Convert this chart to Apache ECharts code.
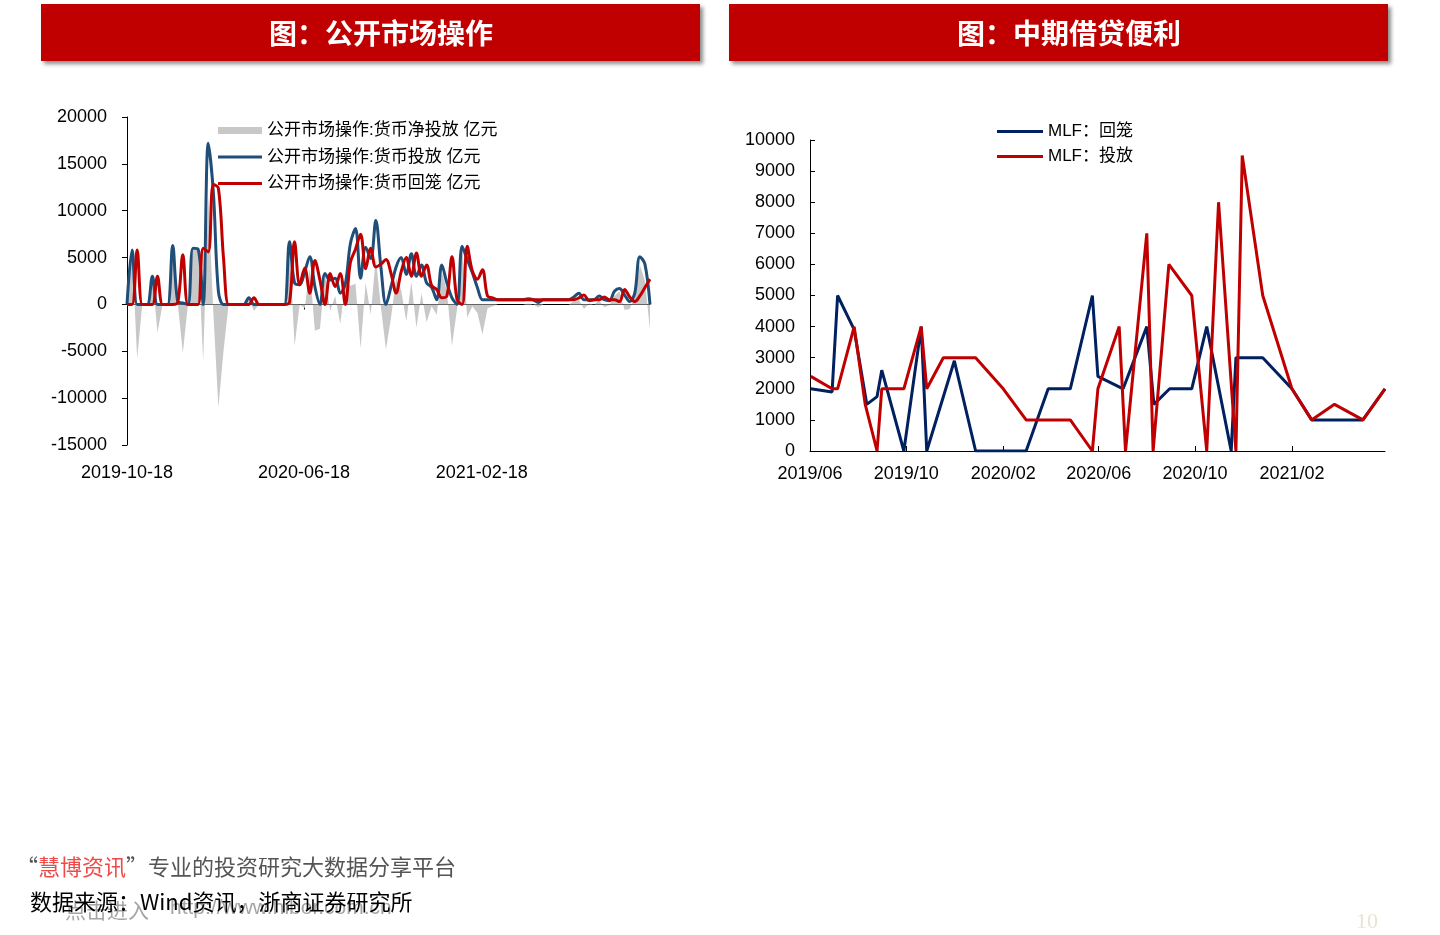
<!DOCTYPE html>
<html><head><meta charset="utf-8">
<script src="https://cdn.jsdelivr.net/npm/echarts@6/dist/echarts.min.js"></script>
<style>html,body{margin:0;padding:0;background:#fff;}#c{width:1440px;height:935px;}</style>
</head><body><div id="c"></div>
<script>
// ---------- Left chart: 公开市场操作 (weekly, from 2019-10-18) ----------
const omoStart = '2019-10-18';
const omoEnd = '2021-10-08';
const omoTickLabels = ['2019-10-18', '2020-06-18', '2021-02-18'];
const omoSupply = [0,5800,0,0,0,3000,0,0,0,6300,
  300,150,0,6000,5900,0,17200,12000,1400,0,
  0,0,0,0,700,0,0,0,0,0,
  0,0,6700,2300,2100,3500,5100,1900,0,3300,
  2600,2800,1200,2200,6500,8100,2800,6100,4900,8950,
  4000,0,1900,4000,5000,3200,5400,3000,4200,2300,
  1800,500,4200,2300,700,0,6200,4800,3400,1800,
  500,500,500,500,500,500,500,500,500,600,
  500,200,500,500,500,500,500,500,800,1200,
  500,500,500,900,500,400,1400,1700,1000,300,
  1200,5100,4300,0];
const omoWithdraw = [0,0,5800,0,0,0,3000,0,0,0,
  200,5300,0,0,0,6000,5600,12800,12400,5000,
  0,0,0,0,0,700,0,0,0,0,
  0,0,200,6700,2100,3900,1200,4700,2600,0,
  3300,1900,3300,0,4500,5900,7500,3800,6000,4000,
  4300,4800,3300,1200,3500,5000,3000,5500,3000,4200,
  2000,1600,700,900,5100,500,0,6200,3600,2700,
  3700,900,700,500,500,500,500,500,500,500,
  500,500,500,500,500,500,500,500,500,700,
  1000,400,500,500,800,500,500,300,1600,800,
  300,900,1800,2700];
const omoNet = [0,5800,-5800,0,0,3000,-3000,0,0,6300,
  100,-5150,0,6000,5900,-6000,11600,-800,-11000,-5000,
  0,0,0,0,700,-700,0,0,0,0,
  0,0,6500,-4400,0,-400,3900,-2800,-2600,3300,
  -700,900,-2100,2200,2000,2200,-4700,2300,-1100,4950,
  -300,-4800,-1400,2800,1500,-1800,2400,-2500,1200,-1900,
  -200,-1100,3500,1400,-4400,-500,6200,-1400,-200,-900,
  -3200,-400,-200,0,0,0,0,0,0,100,
  0,-300,0,0,0,0,0,0,300,500,
  -500,100,0,400,-300,-100,900,1400,-600,-500,
  900,4200,2500,-2700];
const omoNames = ['公开市场操作:货币净投放 亿元', '公开市场操作:货币投放 亿元', '公开市场操作:货币回笼 亿元'];

// ---------- Right chart: 中期借贷便利 ----------
const mlfTickLabels = ['2019/06', '2019/10', '2020/02', '2020/06', '2020/10', '2021/02'];
const mlfStart = '2019-06-01';
const mlfEnd = '2021-05-30';
const mlfBackDates = ['2019-06-02','2019-06-29','2019-07-06','2019-07-27','2019-08-12','2019-08-25','2019-08-31','2019-09-28','2019-10-20','2019-10-27','2019-12-01','2019-12-28','2020-03-01','2020-03-29','2020-04-26','2020-05-24','2020-05-31','2020-07-02','2020-08-01','2020-08-10','2020-08-30','2020-09-27','2020-10-16','2020-11-16','2020-11-22','2020-12-26','2021-02-01','2021-02-26','2021-05-02','2021-05-30'];
const mlfBackValues = [2000,1900,5000,3900,1500,1750,2600,0,4000,0,2900,0,0,2000,2000,5000,2400,2000,4000,1500,2000,2000,4000,0,3000,3000,2000,1000,1000,2000];
const mlfPutDates = ['2019-06-02','2019-06-29','2019-07-06','2019-07-27','2019-08-10','2019-08-25','2019-08-31','2019-09-28','2019-10-20','2019-10-27','2019-11-17','2019-12-28','2020-02-01','2020-03-01','2020-04-26','2020-05-24','2020-05-31','2020-06-27','2020-07-05','2020-08-01','2020-08-09','2020-08-29','2020-09-27','2020-10-16','2020-10-31','2020-11-22','2020-11-30','2020-12-26','2021-02-01','2021-02-26','2021-03-27','2021-05-02','2021-05-30'];
const mlfPutValues = [2400,2000,2000,4000,1500,0,2000,2000,4000,2000,3000,3000,2000,1000,1000,0,2000,4000,0,7000,0,6000,5000,0,8000,0,9500,5000,2000,1000,1500,1000,2000];
const mlfNames = ['MLF：回笼', 'MLF：投放'];

// ---------- helpers ----------
function ts(s) {
  const p = s.split(/[-\/]/).map(Number);
  return new Date(p[0], p[1] - 1, p[2] || 1).getTime();
}
function pad(n) { return (n < 10 ? '0' : '') + n; }
const st = omoStart.split('-').map(Number);
const omoDates = omoSupply.map((_, i) => new Date(st[0], st[1] - 1, st[2] + 7 * i).getTime());
const pairs = (xs, ys) => ys.map((v, i) => [xs[i], v]);

const LAT = "'Liberation Sans', Arial, 'Noto Sans CJK SC', sans-serif";
const CJK = "'Noto Sans CJK SC', 'Liberation Sans', sans-serif";
const legendText = {fontSize: 17, color: '#000', fontFamily: LAT};

const chart = echarts.init(document.getElementById('c'), null, {renderer: 'canvas'});
const option = {
  backgroundColor: '#fff',
  animation: false,
  textStyle: {fontFamily: LAT},
  grid: [
    {left: 127, top: 117, width: 523, height: 328},
    {left: 810, top: 140, width: 575, height: 311}
  ],
  legend: [
    {
      orient: 'vertical', left: 218, top: 122, padding: 0,
      itemWidth: 44, itemHeight: 7, textStyle: legendText,
      data: [{name: omoNames[0], icon: 'rect'}]
    },
    {
      orient: 'vertical', left: 218, top: 148.5, padding: 0, itemGap: 9.5,
      itemWidth: 44, itemHeight: 3, textStyle: legendText,
      data: [{name: omoNames[1], icon: 'rect'}, {name: omoNames[2], icon: 'rect'}]
    },
    {
      orient: 'vertical', left: 997, top: 123, padding: 0, itemGap: 8,
      itemWidth: 46, itemHeight: 3, textStyle: legendText,
      data: [{name: mlfNames[0], icon: 'rect'}, {name: mlfNames[1], icon: 'rect'}]
    }
  ],
  xAxis: [
    {
      gridIndex: 0, type: 'value', min: ts(omoStart), max: ts(omoEnd), position: 'bottom',
      axisLine: {show: false, onZero: false}, axisTick: {show: false}, splitLine: {show: false},
      axisLabel: {
        customValues: omoTickLabels.map(ts), fontSize: 18, color: '#000', margin: 19, fontFamily: LAT,
        formatter: v => { const d = new Date(v); return d.getFullYear() + '-' + pad(d.getMonth() + 1) + '-' + pad(d.getDate()); }
      }
    },
    {
      gridIndex: 0, type: 'value', min: ts(omoStart), max: ts(omoEnd), position: 'bottom',
      axisLine: {show: true, onZero: true, lineStyle: {color: '#000', width: 1}},
      axisTick: {show: true, customValues: omoTickLabels.map(ts), length: 5, lineStyle: {color: '#000'}},
      axisLabel: {show: false}, splitLine: {show: false}
    },
    {
      gridIndex: 1, type: 'value', min: ts(mlfStart), max: ts(mlfEnd), position: 'bottom',
      axisLine: {show: true, onZero: false, lineStyle: {color: '#000', width: 1}},
      axisTick: {show: true, inside: true, customValues: mlfTickLabels.map(ts), length: 5, lineStyle: {color: '#000'}},
      splitLine: {show: false},
      axisLabel: {
        customValues: mlfTickLabels.map(ts), fontSize: 18, color: '#000', margin: 14, fontFamily: LAT,
        formatter: v => { const d = new Date(v); return d.getFullYear() + '/' + pad(d.getMonth() + 1); }
      }
    }
  ],
  yAxis: [
    {
      gridIndex: 0, type: 'value', min: -15000, max: 20000, interval: 5000,
      axisLine: {show: true, onZero: false, lineStyle: {color: '#000', width: 1}},
      axisTick: {show: true, length: 5, lineStyle: {color: '#000'}},
      splitLine: {show: false},
      axisLabel: {fontSize: 18, color: '#000', margin: 20, fontFamily: LAT, formatter: v => String(v)}
    },
    {
      gridIndex: 1, type: 'value', min: 0, max: 10000, interval: 1000,
      axisLine: {show: true, onZero: false, lineStyle: {color: '#000', width: 1}},
      axisTick: {show: true, inside: true, length: 5, lineStyle: {color: '#000'}},
      splitLine: {show: false},
      axisLabel: {fontSize: 18, color: '#000', margin: 15, fontFamily: LAT, formatter: v => String(v)}
    }
  ],
  series: [
    {
      name: omoNames[0], type: 'line', xAxisIndex: 0, yAxisIndex: 0, data: pairs(omoDates, omoNet),
      symbol: 'none', color: '#C8C8C8', lineStyle: {width: 0}, areaStyle: {color: '#C8C8C8', opacity: 1}, z: 1
    },
    {
      name: omoNames[1], type: 'line', xAxisIndex: 0, yAxisIndex: 0, data: pairs(omoDates, omoSupply),
      symbol: 'none', smooth: 0.35, color: '#1F4E79', lineStyle: {width: 3, color: '#1F4E79'}, z: 2
    },
    {
      name: omoNames[2], type: 'line', xAxisIndex: 0, yAxisIndex: 0, data: pairs(omoDates, omoWithdraw),
      symbol: 'none', smooth: 0.35, color: '#C00000', lineStyle: {width: 3, color: '#C00000'}, z: 3
    },
    {
      name: mlfNames[0], type: 'line', xAxisIndex: 2, yAxisIndex: 1, data: pairs(mlfBackDates.map(ts), mlfBackValues),
      symbol: 'none', color: '#002060', lineStyle: {width: 3, color: '#002060'}, z: 2
    },
    {
      name: mlfNames[1], type: 'line', xAxisIndex: 2, yAxisIndex: 1, data: pairs(mlfPutDates.map(ts), mlfPutValues),
      symbol: 'none', color: '#C00000', lineStyle: {width: 3, color: '#C00000'}, z: 3
    }
  ],
  graphic: [
    {type: 'rect', shape: {x: 41, y: 4, width: 659, height: 57},
     style: {fill: '#C00000', shadowBlur: 4, shadowOffsetX: 3, shadowOffsetY: 3, shadowColor: 'rgba(0,0,0,0.45)'}},
    {type: 'rect', shape: {x: 729, y: 4, width: 659, height: 57},
     style: {fill: '#C00000', shadowBlur: 4, shadowOffsetX: 3, shadowOffsetY: 3, shadowColor: 'rgba(0,0,0,0.45)'}},
    {type: 'text', x: 381, y: 33,
     style: {text: '图：公开市场操作', fill: '#fff', fontSize: 28, fontWeight: 'bold', fontFamily: CJK, align: 'center', verticalAlign: 'middle'}},
    {type: 'text', x: 1069, y: 33,
     style: {text: '图：中期借贷便利', fill: '#fff', fontSize: 28, fontWeight: 'bold', fontFamily: CJK, align: 'center', verticalAlign: 'middle'}},
    {type: 'text', x: 65, y: 910,
     style: {text: '点击进入', fill: 'rgba(90,90,90,0.55)', fontSize: 21, fontFamily: CJK, align: 'left', verticalAlign: 'middle'}},
    {type: 'text', x: 170, y: 908,
     style: {text: 'http://www.hibor.com.cn', fill: 'rgba(90,90,90,0.55)', fontSize: 21, fontFamily: LAT, align: 'left', verticalAlign: 'middle'}},
    {type: 'text', x: 16, y: 867,
     style: {text: '{q|“}{r|慧博资讯}{q|”专业的投资研究大数据分享平台}', fontSize: 22, fontFamily: CJK, align: 'left', verticalAlign: 'middle',
       rich: {q: {fill: '#555', fontSize: 22, fontFamily: CJK}, r: {fill: '#EE4A4A', fontSize: 22, fontFamily: CJK}}}},
    {type: 'text', x: 30, y: 902,
     style: {text: '数据来源：Wind资讯，浙商证券研究所', fill: '#000', fontSize: 22, fontFamily: CJK, align: 'left', verticalAlign: 'middle'}},
    {type: 'text', x: 1367, y: 922,
     style: {text: '10', fill: '#EAE3D2', fontSize: 22, fontFamily: "'Liberation Serif', 'DejaVu Serif', serif", align: 'center', verticalAlign: 'middle'}}
  ]
};
chart.setOption(option);
</script>
</body></html>
